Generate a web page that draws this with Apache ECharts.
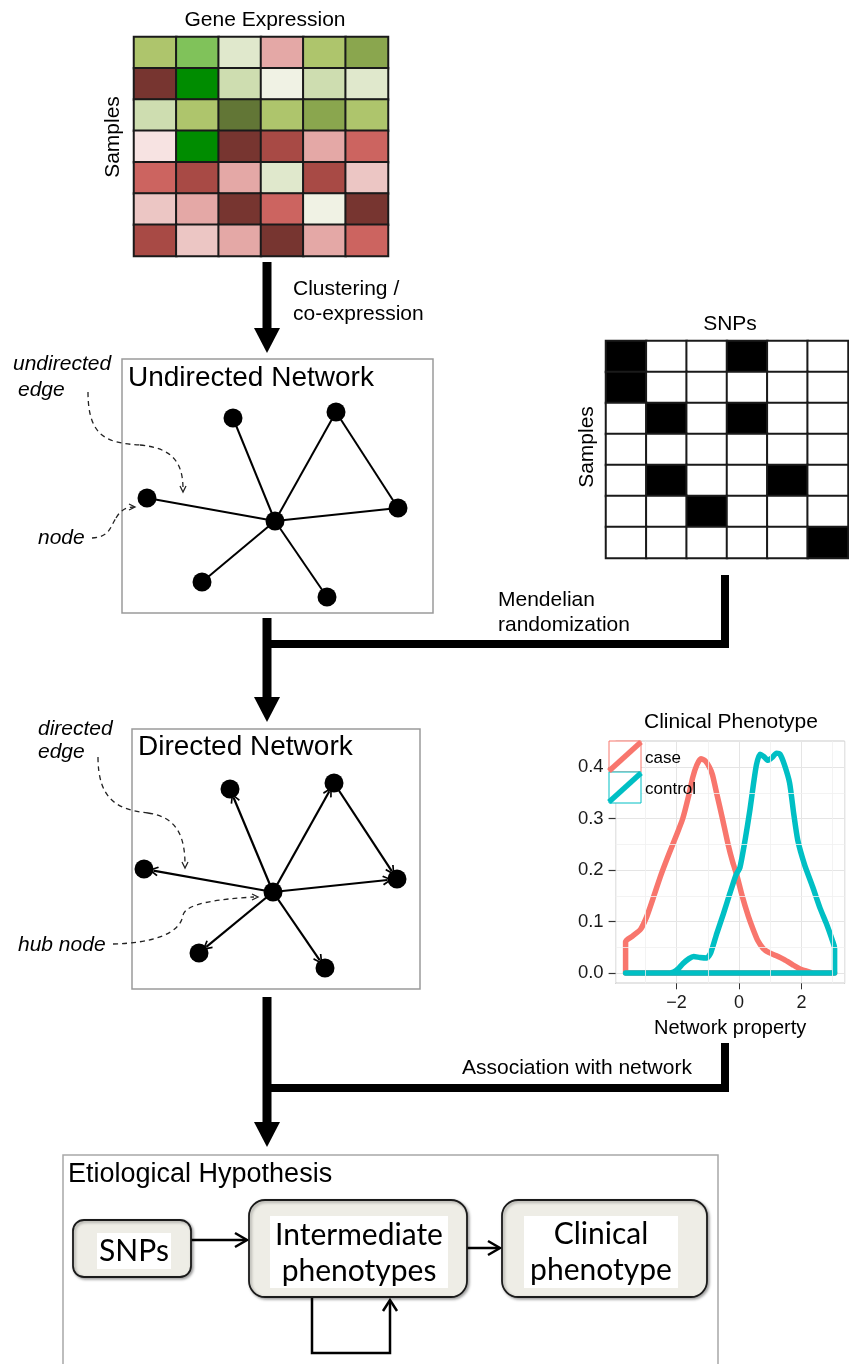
<!DOCTYPE html>
<html><head><meta charset="utf-8">
<script src="https://cdn.jsdelivr.net/npm/echarts@6/dist/echarts.min.js"></script>
<style>html,body{margin:0;padding:0;background:#fff}#c{width:849px;height:1364px}</style>
</head><body><div id="c"></div>
<script>
// ---------- DATA ----------
const geneCols = ['g1','g2','g3','g4','g5','g6'];
const sampleRows = ['s1','s2','s3','s4','s5','s6','s7'];
// expression level codes (negative = red/low, positive = green/high)
const geneExpr = [
  [4, 7, 2, -3, 4, 5],
  [-6, 8, 3, 1, 3, 2],
  [3, 4, 6, 4, 5, 4],
  [-1, 8, -6, -5, -3, -4],
  [-4, -5, -3, 2, -5, -2],
  [-2, -3, -6, -4, 1, -6],
  [-5, -2, -3, -6, -3, -4]
];
const exprLevels = [-6,-5,-4,-3,-2,-1,1,2,3,4,5,6,7,8];
const exprColors = ['#773530','#a84a45','#cc6460','#e4a8a6','#ecc6c4','#f7e3e2','#f0f2e4','#e0e8cc','#ceddb0','#aec56c','#8aa64e','#627636','#80c25a','#008c00'];

const snpCols = ['snp1','snp2','snp3','snp4','snp5','snp6'];
const snpGeno = [
  [1,0,0,1,0,0],
  [1,0,0,0,0,0],
  [0,1,0,1,0,0],
  [0,0,0,0,0,0],
  [0,1,0,0,1,0],
  [0,0,1,0,0,0],
  [0,0,0,0,0,1]
];

const caseDensity = [[-3.63,0],[-3.63,0.061],[-3.4,0.072],[-3.15,0.085],[-2.95,0.11],[-2.75,0.145],[-2.5,0.19],[-2.25,0.23],[-2.0,0.268],[-1.8,0.3],[-1.62,0.342],[-1.48,0.38],[-1.35,0.404],[-1.22,0.416],[-1.08,0.412],[-0.95,0.4],[-0.85,0.385],[-0.7,0.345],[-0.53,0.3],[-0.35,0.25],[-0.2,0.215],[-0.07,0.19],[0.1,0.15],[0.3,0.11],[0.45,0.085],[0.6,0.063],[0.77,0.048],[0.95,0.04],[1.18,0.034],[1.45,0.026],[1.72,0.016],[1.95,0.008],[2.15,0.004],[2.4,0],[3.06,0],[-3.63,0]];
const controlDensity = [[-3.63,0],[-2.3,0],[-2.1,0.002],[-1.95,0.008],[-1.8,0.018],[-1.6,0.028],[-1.45,0.032],[-1.25,0.03],[-1.03,0.029],[-0.9,0.04],[-0.71,0.077],[-0.5,0.115],[-0.29,0.155],[-0.1,0.19],[0.03,0.205],[0.2,0.26],[0.35,0.317],[0.47,0.37],[0.56,0.405],[0.67,0.425],[0.8,0.42],[0.93,0.413],[1.05,0.418],[1.2,0.427],[1.31,0.425],[1.45,0.405],[1.62,0.369],[1.75,0.31],[1.88,0.258],[2.1,0.21],[2.36,0.167],[2.6,0.125],[2.79,0.097],[2.95,0.07],[3.06,0.048],[3.06,0],[-3.63,0]];
const xMinorGrid = [-3,-1,1,3];
const yMinorGrid = [0.05,0.15,0.25,0.35];

const undirectedNodes = [[111,59],[214,53],[25,139],[153,162],[276,149],[80,223],[205,238]];
const directedNodes = [[98,60],[202,54],[12,140],[141,163],[265,150],[67,224],[193,239]];
const networkEdges = [[3,0],[3,1],[3,2],[3,4],[3,5],[3,6],[1,4]];

// ---------- BUILD ----------
const FONT = '"Liberation Sans", Arial, sans-serif';
const BOXFONT = 'Lato, "Open Sans", sans-serif';
const chart = echarts.init(document.getElementById('c'), null, {renderer:'canvas'});

function heat(mat){ const d=[]; mat.forEach((row,r)=>row.forEach((v,c)=>d.push([c,r,v]))); return d; }

const G = [];
function T(text,x,y,font,o){ o=o||{}; G.push({type:'text',x,y,rotation:o.rot||0,z:100,style:{text,font,fill:o.fill||'#000',align:o.align||'left',verticalAlign:'middle'}}); }
function R(x,y,w,h,style,z,r){ G.push({type:'rect',z:z||1,shape:{x,y,width:w,height:h,r:r||0},style}); }
function P(points,style,z){ G.push({type:'polygon',z:z||1,shape:{points},style}); }
function L(points,style,z){ G.push({type:'polyline',z:z||1,shape:{points},style}); }
function B(a,c1,c2,b,style){ G.push({type:'bezierCurve',z:1,shape:{x1:a[0],y1:a[1],cpx1:c1[0],cpy1:c1[1],cpx2:c2[0],cpy2:c2[1],x2:b[0],y2:b[1]},style}); }

const blk={fill:'#000'};
function bigArrow(x,y0,y1){ R(x-4.5,y0,9,y1-y0,blk); P([[x-13,y1],[x+13,y1],[x,y1+25]],blk); }
bigArrow(267,262,328);
bigArrow(267,618,697);
bigArrow(267,997,1122);
R(263,640,466,8,blk); R(721,575,8,73,blk);
R(263,1084,466,8,blk); R(721,1043,8,49,blk);

// network boxes
const grayBox={fill:'none',stroke:'#9a9a9a',lineWidth:1.5};
R(122,359,311,254,grayBox); R(132,729,288,260,grayBox);
R(63,1155,655,260,{fill:'none',stroke:'#a8a8a8',lineWidth:1.5});

// dashed annotations
const dash={fill:'none',stroke:'#222',lineWidth:1.3,lineDash:[5,4]};
const solidThin={fill:'none',stroke:'#222',lineWidth:1.3};
B([88,392],[88,438],[108,443],[140,445],dash); B([140,445],[172,448],[183,462],[183,489],dash);
L([[180,486],[183,492],[186,486]],solidThin);
B([92,538],[110,537],[110,527],[116,518],dash); B([116,518],[121,509],[128,507],[134,507],dash);
L([[129,504],[135,507],[129,510]],solidThin);
B([98,757],[98,800],[118,810],[148,813],dash); B([148,813],[178,817],[185,838],[185,865],dash);
L([[182,862],[185,868],[188,862]],solidThin);
B([113,944],[150,943],[180,935],[183,915],dash); B([183,915],[186,903],[220,899],[254,897],dash);
L([[252,894],[258,897],[252,900]],solidThin);

// texts
T('Gene Expression',265,20,'21px '+FONT,{align:'center'});
T('Samples',113,137,'21px '+FONT,{align:'center',rot:Math.PI/2});
T('Clustering /',293,289,'21px '+FONT);
T('co-expression',293,314,'21px '+FONT);
T('SNPs',730,324,'21px '+FONT,{align:'center'});
T('Samples',587,447,'21px '+FONT,{align:'center',rot:Math.PI/2});
T('Undirected Network',128,378,'28px '+FONT);
T('undirected',13,364,'italic 21px '+FONT);
T('edge',18,390,'italic 21px '+FONT);
T('node',38,538,'italic 21px '+FONT);
T('Mendelian',498,600,'21px '+FONT);
T('randomization',498,625,'21px '+FONT);
T('Directed Network',138,747,'28px '+FONT);
T('directed',38,729,'italic 21px '+FONT);
T('edge',38,752,'italic 21px '+FONT);
T('hub node',18,945,'italic 21px '+FONT);
T('Clinical Phenotype',731,722,'21px '+FONT,{align:'center'});
T('case',645,758,'17px '+FONT);
T('control',645,789,'17px '+FONT);
T('Association with network',462,1068,'21px '+FONT);
T('Etiological Hypothesis',68,1175,'27px '+FONT);

// legend keys
R(609,741,32,31,{fill:'#fff',stroke:'#f8766d',lineWidth:1},50);
L([[609,771],[641,742]],{stroke:'#f8766d',lineWidth:5.5},51);
R(609,772,32,31,{fill:'#fff',stroke:'#00bfc4',lineWidth:1},50);
L([[609,802],[641,773]],{stroke:'#00bfc4',lineWidth:5.5},51);

// bottom flow boxes
const rbox={fill:'#eeede6',stroke:'#1a1a1a',lineWidth:1.8,shadowBlur:3,shadowOffsetX:1.5,shadowOffsetY:1.5,shadowColor:'rgba(0,0,0,0.35)'};
R(73,1220,118,57,rbox,5,11); R(97,1233,74,36,{fill:'#fff'},6);
R(249,1200,218,97,rbox,5,16); R(270,1216,178,72,{fill:'#fff'},6);
R(502,1200,205,97,rbox,5,16); R(524,1216,154,72,{fill:'#fff'},6);
T('SNPs',134,1251,'30px '+BOXFONT,{align:'center'});
T('Intermediate',359,1235,'30px '+BOXFONT,{align:'center'});
T('phenotypes',359,1271,'30px '+BOXFONT,{align:'center'});
T('Clinical',601,1234,'30px '+BOXFONT,{align:'center'});
T('phenotype',601,1270,'30px '+BOXFONT,{align:'center'});
const fl={fill:'none',stroke:'#000',lineWidth:2.5};
L([[191,1240],[246,1240]],fl); L([[235,1233],[247,1240],[235,1247]],fl);
L([[467,1248],[499,1248]],fl); L([[488,1241],[500,1248],[488,1255]],fl);
L([[312,1297],[312,1353],[390,1353],[390,1301]],fl); L([[383,1311],[390,1300],[397,1311]],fl);

const hid = (extra)=>Object.assign({show:false},extra);
const option = {
  animation:false,
  backgroundColor:'#fff',
  grid:[
    {left:134,top:37,width:254,height:219,show:true,borderColor:'#1a1a1a',borderWidth:2,outerBoundsMode:'none'},
    {left:606,top:341,width:242,height:217,show:true,borderColor:'#1a1a1a',borderWidth:2,outerBoundsMode:'none'},
    {left:615.6,top:741.3,width:229,height:242,show:true,borderColor:'#7f7f7f',borderWidth:1,backgroundColor:'#fff',outerBoundsMode:'none'},
    {left:122,top:359,width:311,height:254,outerBoundsMode:'none'},
    {left:132,top:729,width:288,height:260,outerBoundsMode:'none'}
  ],
  xAxis:[
    hid({type:'category',gridIndex:0,data:geneCols}),
    hid({type:'category',gridIndex:1,data:snpCols}),
    {type:'value',gridIndex:2,min:-3.95,max:3.38,splitNumber:4,position:'bottom',
     axisLine:{show:false,onZero:false},axisTick:{show:true,length:6,lineStyle:{color:'#333'}},
     axisLabel:{show:true,showMinLabel:false,showMaxLabel:false,fontSize:18,fontFamily:FONT,color:'#1a1a1a',margin:11,
       formatter:v=>(v<0?'\u2212':'')+Math.abs(v)},
     splitLine:{show:true,lineStyle:{color:'#e5e5e5',width:1}},
     name:'Network property',nameLocation:'middle',nameGap:35,nameTextStyle:{fontSize:20,fontFamily:FONT,color:'#000'}},
    hid({type:'value',gridIndex:3,min:0,max:311}),
    hid({type:'value',gridIndex:4,min:0,max:288})
  ],
  yAxis:[
    hid({type:'category',gridIndex:0,data:sampleRows,inverse:true}),
    hid({type:'category',gridIndex:1,data:sampleRows,inverse:true}),
    {type:'value',gridIndex:2,min:-0.02,max:0.45,splitNumber:5,position:'left',
     axisLine:{show:false,onZero:false},axisTick:{show:true,length:7,lineStyle:{color:'#333',width:1.2}},
     axisLabel:{show:true,showMinLabel:false,showMaxLabel:false,fontSize:18.5,fontFamily:FONT,color:'#1a1a1a',margin:12,
       formatter:v=>v.toFixed(1)},
     splitLine:{show:true,lineStyle:{color:'#e5e5e5',width:1}}},
    hid({type:'value',gridIndex:3,min:0,max:254,inverse:true}),
    hid({type:'value',gridIndex:4,min:0,max:260,inverse:true})
  ],
  visualMap:[
    {type:'piecewise',show:false,seriesIndex:0,pieces:exprLevels.map((v,i)=>({value:v,color:exprColors[i]}))},
    {type:'piecewise',show:false,seriesIndex:1,pieces:[{value:0,color:'#ffffff'},{value:1,color:'#000000'}]}
  ],
  series:[
    {type:'heatmap',xAxisIndex:0,yAxisIndex:0,data:heat(geneExpr),itemStyle:{borderColor:'#1a1a1a',borderWidth:2},emphasis:{disabled:true},silent:true},
    {type:'heatmap',xAxisIndex:1,yAxisIndex:1,data:heat(snpGeno),itemStyle:{borderColor:'#1a1a1a',borderWidth:2},emphasis:{disabled:true},silent:true},
    {type:'line',xAxisIndex:2,yAxisIndex:2,data:[],z:1,silent:true,
     markLine:{silent:true,symbol:'none',label:{show:false},lineStyle:{color:'#f0f0f0',width:0.8,type:'solid'},
       data:xMinorGrid.map(v=>({xAxis:v})).concat(yMinorGrid.map(v=>({yAxis:v})))}},
    {type:'line',name:'case',xAxisIndex:2,yAxisIndex:2,data:caseDensity,symbol:'none',smooth:0.2,z:3,silent:true,
     lineStyle:{color:'#f8766d',width:5.5,join:'round',cap:'round'}},
    {type:'line',name:'control',xAxisIndex:2,yAxisIndex:2,data:controlDensity,symbol:'none',smooth:0.2,z:4,silent:true,
     lineStyle:{color:'#00bfc4',width:5.5,join:'round',cap:'round'}},
    {type:'graph',coordinateSystem:'cartesian2d',xAxisIndex:3,yAxisIndex:3,layout:'none',symbol:'circle',symbolSize:19,
     itemStyle:{color:'#000'},lineStyle:{color:'#000',width:2,opacity:1,curveness:0},edgeSymbol:['none','none'],
     data:undirectedNodes.map(p=>({value:p})),links:networkEdges.map(e=>({source:e[0],target:e[1]})),
     label:{show:false},emphasis:{disabled:true},silent:true,z:5},
    {type:'graph',coordinateSystem:'cartesian2d',xAxisIndex:4,yAxisIndex:4,layout:'none',symbol:'circle',symbolSize:19,
     itemStyle:{color:'#000'},lineStyle:{color:'#000',width:2.2,opacity:1,curveness:0},
     edgeSymbol:['none','path://M5,0L10,9L8.6,10L5,3.2L1.4,10L0,9Z'],edgeSymbolSize:[9,10],
     data:directedNodes.map(p=>({value:p})),links:networkEdges.map(e=>({source:e[0],target:e[1]})),
     label:{show:false},emphasis:{disabled:true},silent:true,z:5}
  ],
  graphic:G
};
chart.setOption(option);
</script></body></html>
